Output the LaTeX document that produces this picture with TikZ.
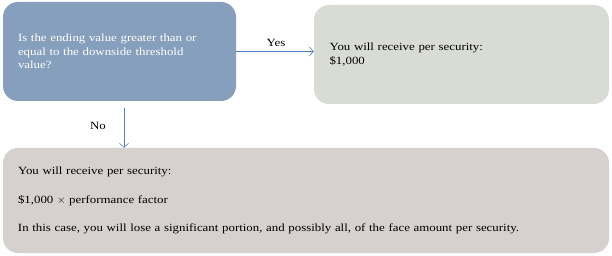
\documentclass[tikz,border=0pt]{standalone}
\usepackage{fontspec}
\setmainfont{Liberation Serif}[FakeStretch=1.17]
\usepackage{tikz}
\usetikzlibrary{positioning}
\usetikzlibrary{arrows.meta}
\definecolor{askblue}{RGB}{134,159,189}
\definecolor{yesgray}{RGB}{217,219,213}
\definecolor{nogray}{RGB}{214,209,207}
\definecolor{linkblue}{RGB}{79,129,189}
\tikzset{
  box/.style={rounded corners=15pt, inner xsep=15pt, inner ysep=0pt, align=left,
    font=\fontsize{11}{13.5}\selectfont},
  link/.style={draw=linkblue, line width=0.6pt, -{Straight Barb[length=4pt,width=9pt]}},
  tag/.style={font=\fontsize{11}{12}\selectfont, inner sep=0pt}
}

\begin{document}
\begin{tikzpicture}[x=1pt, y=1pt]
  \useasboundingbox (0,0) rectangle (612,-256);

  \node[box, fill=askblue, text=white, minimum width=233pt, minimum height=99pt, text width=203pt]
    (ask) at (119.5,-51.5) {Is the ending value greater than or\\ equal to the downside threshold\\ value?};
  \node[box, fill=yesgray, minimum width=295pt, minimum height=99pt, text width=264pt]
    (gain) at (461.5,-54.5) {You will receive per security:\\ \$1,000};
  \node[box, fill=nogray, minimum width=606pt, minimum height=105pt, text width=576pt]
    (loss) at (306,-200.5) {You will receive per security:\\[15pt]
      \$1,000 $\times$ performance factor\\[15pt]
      In this case, you will lose a significant portion, and possibly all, of the face amount per security.};

  % connectors
  \coordinate (nostart) at (124,-108);
  \draw[link] (ask.east) -- (ask.east -| gain.west);
  \draw[link] (nostart) -- (nostart |- loss.north);
  \node[tag] (yes) at (276,-43) {Yes};
  \node[tag] (no) at (98,-126) {No};
\end{tikzpicture}
\end{document}
